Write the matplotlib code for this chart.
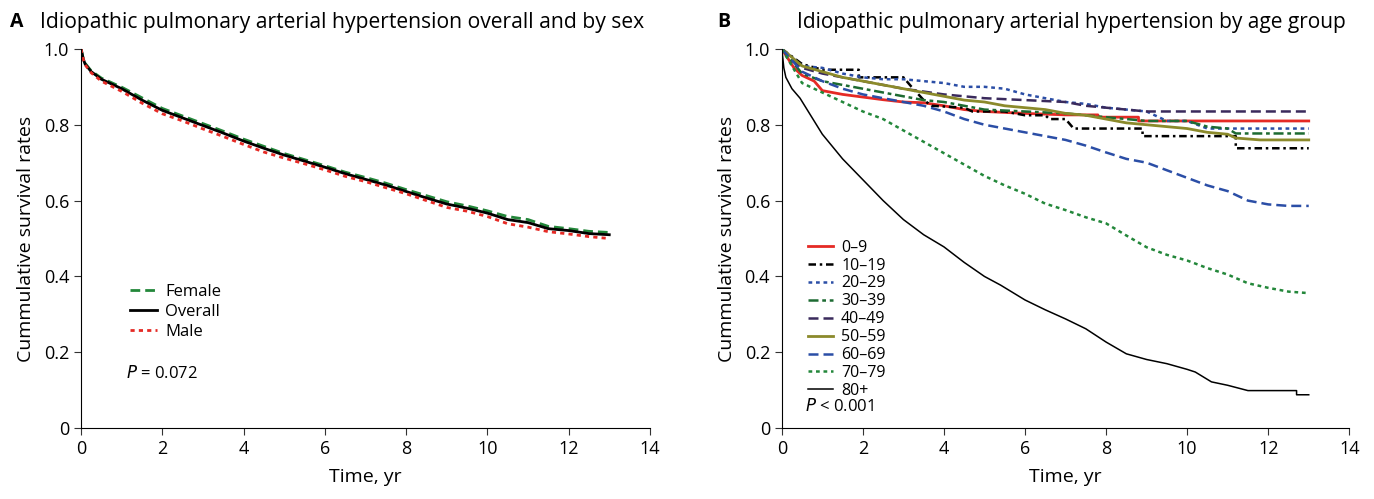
import matplotlib.pyplot as plt

plt.rcParams['font.family'] = ['Open Sans', 'DejaVu Sans']

# ---- panel A: overall and by sex ----
t_a = [0, 0.05, 0.1, 0.25, 0.5, 1, 1.5, 2, 2.5, 3, 3.5, 4, 4.5, 5, 5.5, 6, 6.5,
       7, 7.5, 8, 8.5, 9, 9.5, 10, 10.5, 11, 11.5, 12, 12.5, 13]
overall = [1.0, 0.975, 0.96, 0.94, 0.92, 0.895, 0.865, 0.838, 0.818, 0.798, 0.778,
           0.757, 0.738, 0.72, 0.704, 0.688, 0.671, 0.656, 0.641, 0.624, 0.607,
           0.591, 0.58, 0.567, 0.55, 0.542, 0.526, 0.521, 0.513, 0.51]
female = [1.0, 0.976, 0.962, 0.942, 0.923, 0.899, 0.871, 0.843, 0.823, 0.803, 0.783,
          0.762, 0.743, 0.724, 0.708, 0.692, 0.675, 0.661, 0.646, 0.629, 0.613,
          0.597, 0.586, 0.573, 0.558, 0.55, 0.532, 0.526, 0.519, 0.516]
male = [1.0, 0.974, 0.958, 0.937, 0.915, 0.888, 0.857, 0.829, 0.81, 0.789, 0.769,
        0.748, 0.728, 0.712, 0.697, 0.681, 0.664, 0.65, 0.634, 0.618, 0.6,
        0.582, 0.572, 0.558, 0.539, 0.53, 0.518, 0.512, 0.505, 0.5]

# ---- panel B: by age group (repeated times mark vertical drops) ----
t_09 = [0, 0.3, 0.5, 0.8, 1.0, 1.5, 2, 2.5, 3, 3.5, 4, 4.5, 5, 6, 7, 7.8, 7.8,
        8.8, 8.8, 13]
s_09 = [1.0, 0.95, 0.93, 0.915, 0.89, 0.88, 0.873, 0.866, 0.86, 0.858, 0.85, 0.84,
        0.835, 0.83, 0.826, 0.826, 0.82, 0.82, 0.81, 0.81]
t_1019 = [0, 0.5, 1, 1.9, 1.9, 3.0, 3.2, 3.5, 3.7, 4.5, 4.7, 5.5, 6, 6.5, 6.6,
          7.0, 7.2, 8.9, 8.9, 11.2, 11.2, 13]
s_1019 = [1.0, 0.96, 0.945, 0.945, 0.925, 0.925, 0.9, 0.865, 0.85, 0.845, 0.835,
          0.835, 0.825, 0.825, 0.815, 0.815, 0.79, 0.79, 0.77, 0.77, 0.738, 0.738]
t_2029 = [0, 0.5, 1, 1.5, 2, 2.5, 3, 3.5, 4, 4.5, 5, 5.5, 6, 6.5, 7, 7.5, 8,
          8.5, 9, 9.5, 10, 10.5, 13]
s_2029 = [1.0, 0.955, 0.95, 0.935, 0.925, 0.92, 0.92, 0.915, 0.91, 0.9, 0.9,
          0.895, 0.88, 0.87, 0.86, 0.855, 0.845, 0.84, 0.835, 0.81, 0.81, 0.79, 0.79]
t_3039 = [0, 0.5, 1, 1.5, 2, 2.5, 3, 3.5, 4, 5, 6, 7, 8, 9, 10, 10.5, 11, 11.2, 13]
s_3039 = [1.0, 0.935, 0.915, 0.905, 0.895, 0.885, 0.875, 0.865, 0.86, 0.84, 0.835,
          0.83, 0.82, 0.81, 0.81, 0.795, 0.79, 0.777, 0.777]
t_4049 = [0, 0.5, 1, 2, 3, 4, 5, 6, 7, 7.5, 8, 8.5, 9, 10, 13]
s_4049 = [1.0, 0.95, 0.935, 0.915, 0.895, 0.88, 0.87, 0.865, 0.86, 0.85, 0.845,
          0.84, 0.835, 0.835, 0.835]
t_5059 = [0, 0.5, 1, 1.5, 2, 2.5, 3, 3.5, 4, 4.5, 5, 5.5, 6, 6.5, 7, 7.5, 8,
          8.5, 9, 9.5, 10, 10.5, 11, 11.2, 11.8, 13]
s_5059 = [1.0, 0.955, 0.94, 0.925, 0.915, 0.905, 0.895, 0.885, 0.875, 0.865, 0.86,
          0.85, 0.845, 0.84, 0.83, 0.825, 0.815, 0.805, 0.8, 0.795, 0.79, 0.78,
          0.775, 0.765, 0.76, 0.76]
t_6069 = [0, 0.5, 1, 1.5, 2, 2.5, 3, 3.5, 4, 4.5, 5, 5.5, 6, 6.5, 7, 7.5, 8,
          8.5, 9, 9.5, 10, 10.5, 11, 11.5, 12, 12.5, 13]
s_6069 = [1.0, 0.94, 0.915, 0.895, 0.88, 0.87, 0.86, 0.85, 0.835, 0.815, 0.8,
          0.79, 0.78, 0.77, 0.76, 0.745, 0.727, 0.71, 0.7, 0.68, 0.66, 0.64,
          0.625, 0.6, 0.59, 0.586, 0.586]
t_7079 = [0, 0.5, 1, 1.5, 2, 2.5, 3, 3.5, 4, 4.5, 5, 5.5, 6, 6.5, 7, 7.5, 8,
          8.5, 9, 9.5, 10, 10.5, 11, 11.5, 12, 12.5, 13]
s_7079 = [1.0, 0.91, 0.885, 0.86, 0.835, 0.815, 0.785, 0.755, 0.725, 0.695, 0.665,
          0.64, 0.618, 0.592, 0.575, 0.556, 0.54, 0.508, 0.477, 0.457, 0.442,
          0.422, 0.405, 0.382, 0.37, 0.36, 0.356]
t_80 = [0, 0.05, 0.1, 0.25, 0.45, 1, 1.5, 2, 2.5, 3, 3.5, 4, 4.5, 5, 5.4, 6, 6.5,
        7, 7.5, 8, 8.5, 9, 9.5, 10, 10.2, 10.6, 11.0, 11.5, 12.7, 12.7, 13]
s_80 = [1.0, 0.95, 0.925, 0.895, 0.87, 0.775, 0.71, 0.655, 0.6, 0.55, 0.51, 0.478,
        0.437, 0.4, 0.377, 0.338, 0.312, 0.288, 0.262, 0.227, 0.196, 0.181, 0.17,
        0.155, 0.148, 0.122, 0.113, 0.099, 0.099, 0.088, 0.088]

age_labels = ['0\u20139', '10\u201319', '20\u201329', '30\u201339', '40\u201349',
              '50\u201359', '60\u201369', '70\u201379', '80+']

red = '#e52a25'
green = '#23873a'
dgreen = '#1d6b32'
blue = '#2b4ea6'
purple = '#3a2a5c'
olive = '#8b8a2b'

fig = plt.figure(figsize=(13.74, 4.99), dpi=100)
axA = fig.add_axes([0.059, 0.142, 0.414, 0.76])
axB = fig.add_axes([0.569, 0.142, 0.413, 0.76])

axA.plot(t_a, female, color=green, lw=2, ls=(0, (3.5, 1.8)), label='Female')
axA.plot(t_a, overall, color='black', lw=2, label='Overall')
axA.plot(t_a, male, color=red, lw=2, ls=(0, (1.5, 1.5)), label='Male')

B = [
    (t_09, s_09, red, 2, '-'),
    (t_1019, s_1019, 'black', 1.8, (0, (3, 1.5, 1, 1.5))),
    (t_2029, s_2029, blue, 1.8, (0, (1.5, 1.5))),
    (t_3039, s_3039, dgreen, 1.8, (0, (4, 1.5, 1.5, 1.5))),
    (t_4049, s_4049, purple, 1.8, (0, (4, 2))),
    (t_5059, s_5059, olive, 2, '-'),
    (t_6069, s_6069, blue, 1.8, (0, (4, 2))),
    (t_7079, s_7079, green, 1.8, (0, (1.5, 1.5))),
    (t_80, s_80, 'black', 1.1, '-'),
]
for (t, s, c, lw, ls), lab in zip(B, age_labels):
    axB.plot(t, s, color=c, lw=lw, ls=ls, label=lab)

for ax in (axA, axB):
    ax.set_xlim(0, 14)
    ax.set_ylim(0, 1.0)
    ax.set_xticks(range(0, 15, 2))
    ax.set_yticks([0, 0.2, 0.4, 0.6, 0.8, 1.0])
    ax.set_yticklabels(['0', '0.2', '0.4', '0.6', '0.8', '1.0'])
    ax.spines['top'].set_visible(False)
    ax.spines['right'].set_visible(False)
    ax.tick_params(direction='out', length=5, labelsize=13, color='#333333')
    ax.set_xlabel('Time, yr', fontsize=14, labelpad=7)
    ax.set_ylabel('Cummulative survival rates', fontsize=14, labelpad=6)

axA.legend(loc='upper left', bbox_to_anchor=(0.06, 0.42), frameon=False,
           fontsize=12, handlelength=1.6, labelspacing=0.25, handletextpad=0.5)
axA.text(0.079, 0.145, '$P$ = 0.072', transform=axA.transAxes, fontsize=12, va='center')

axB.legend(loc='upper left', bbox_to_anchor=(0.02, 0.535), frameon=False,
           fontsize=11.5, handlelength=1.6, labelspacing=0.12, handletextpad=0.5)
axB.text(0.04, 0.057, '$P$ < 0.001', transform=axB.transAxes, fontsize=12, va='center')

fig.text(0.007, 0.955, 'A', fontsize=14, fontweight='bold', va='center')
fig.text(0.522, 0.955, 'B', fontsize=14, fontweight='bold', va='center')
fig.text(0.029, 0.955, 'Idiopathic pulmonary arterial hypertension overall and by sex',
         fontsize=15.2, va='center')
fig.text(0.580, 0.955, 'Idiopathic pulmonary arterial hypertension by age group',
         fontsize=15, va='center')

fig.savefig('out.png', dpi=100)
